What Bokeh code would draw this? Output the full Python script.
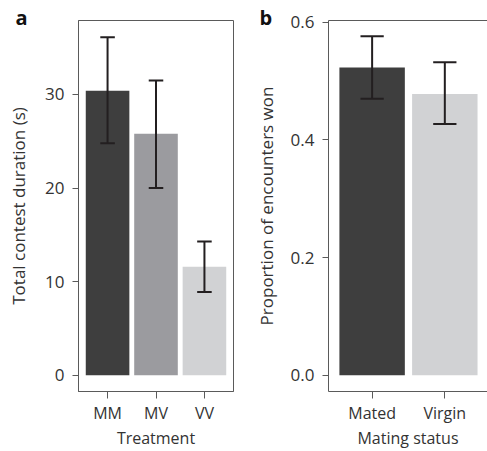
from bokeh.plotting import figure
from bokeh.layouts import row
from bokeh.models import Range1d, FixedTicker, PrintfTickFormatter, LinearAxis, Title
from bokeh.embed import file_html
from bokeh.resources import INLINE

# ---- data ----
treatments = ["MM", "MV", "VV"]
duration = [30.4, 25.8, 11.6]
duration_lo = [24.8, 20.0, 8.9]
duration_hi = [36.1, 31.5, 14.3]
treat_colors = ["#3e3e3e", "#9b9b9f", "#d1d2d4"]
duration_ticks = [0, 10, 20, 30]

status = ["Mated", "Virgin"]
won = [0.523, 0.478]
won_lo = [0.470, 0.427]
won_hi = [0.576, 0.532]
status_colors = ["#3e3e3e", "#d1d2d4"]
won_ticks = [0.0, 0.2, 0.4, 0.6]

FONT = "Open Sans"
TXT = "#333333"
AX = "#5a5a5a"
ERR = "#231f20"


def style_axes(p):
    for ax in p.xaxis:
        ax.major_label_text_font = FONT
        ax.major_label_text_font_size = "16px"
        ax.major_label_text_color = TXT
        ax.axis_label_text_font = FONT
        ax.axis_label_text_font_size = "16px"
        ax.axis_label_text_font_style = "normal"
        ax.axis_label_text_color = TXT
        ax.major_tick_out = 7
        ax.major_tick_in = 0
        ax.minor_tick_out = 0
        ax.minor_tick_in = 0
        ax.major_label_standoff = 3
        ax.axis_label_standoff = 0
        ax.axis_line_color = AX
        ax.major_tick_line_color = AX
    for ax in p.yaxis:
        ax.major_label_text_font = FONT
        ax.major_label_text_font_size = "17px"
        ax.major_label_text_color = TXT
        ax.axis_label_text_font = FONT
        ax.axis_label_text_font_size = "17px"
        ax.axis_label_text_font_style = "normal"
        ax.axis_label_text_color = TXT
        ax.major_tick_out = 6
        ax.major_tick_in = 0
        ax.minor_tick_out = 0
        ax.minor_tick_in = 0
        ax.major_label_standoff = 8
        ax.axis_line_color = AX
        ax.major_tick_line_color = AX
    p.xgrid.visible = False
    p.ygrid.visible = False


def panel_letter(p, letter, offset):
    t = Title(text=letter, align="left", offset=offset, standoff=-20,
              text_font=FONT, text_font_size="20px", text_font_style="bold",
              text_color="#111111")
    p.add_layout(t, "above")


# ---- panel a ----
xa = [i + 1 for i in range(len(treatments))]
pa = figure(width=240, height=451, output_backend="svg", toolbar_location=None,
            x_range=Range1d(0.4, 3.6), y_range=Range1d(-1.73, 37.9),
            min_border_left=78, min_border_right=7, min_border_top=19, min_border_bottom=60)
pa.vbar(x=xa, top=duration, bottom=0, width=0.9, fill_color=treat_colors, line_color=None)
pa.segment(x0=xa, x1=xa, y0=duration_lo, y1=duration_hi, line_color=ERR, line_width=2)
pa.segment(x0=[x - 0.15 for x in xa], x1=[x + 0.15 for x in xa], y0=duration_hi, y1=duration_hi,
           line_color=ERR, line_width=2)
pa.segment(x0=[x - 0.15 for x in xa], x1=[x + 0.15 for x in xa], y0=duration_lo, y1=duration_lo,
           line_color=ERR, line_width=2)
pa.xaxis.ticker = FixedTicker(ticks=xa)
pa.xaxis.major_label_overrides = {x: t for x, t in zip(xa, treatments)}
pa.yaxis.ticker = FixedTicker(ticks=duration_ticks)
pa.xaxis.axis_label = "Treatment"
pa.yaxis.axis_label = "Total contest duration (s)"
style_axes(pa)
pa.yaxis.axis_label_standoff = 12
pa.outline_line_color = AX
pa.outline_line_alpha = 1.0
panel_letter(pa, "a", -63)

# ---- panel b ----
xb = [i + 1 for i in range(len(status))]
pb = figure(width=247, height=451, output_backend="svg", toolbar_location=None,
            x_range=Range1d(0.4, 2.587), y_range=Range1d(-0.0276, 0.6029),
            min_border_left=88, min_border_right=0, min_border_top=20, min_border_bottom=59)
pb.vbar(x=xb, top=won, bottom=0, width=0.9, fill_color=status_colors, line_color=None)
pb.segment(x0=xb, x1=xb, y0=won_lo, y1=won_hi, line_color=ERR, line_width=2)
pb.segment(x0=[x - 0.16 for x in xb], x1=[x + 0.16 for x in xb], y0=won_hi, y1=won_hi,
           line_color=ERR, line_width=2)
pb.segment(x0=[x - 0.16 for x in xb], x1=[x + 0.16 for x in xb], y0=won_lo, y1=won_lo,
           line_color=ERR, line_width=2)
pb.xaxis.ticker = FixedTicker(ticks=xb)
pb.xaxis.major_label_overrides = {x: t for x, t in zip(xb, status)}
pb.yaxis.ticker = FixedTicker(ticks=won_ticks)
pb.yaxis.formatter = PrintfTickFormatter(format="%.1f")
pb.xaxis.axis_label = "Mating status"
pb.yaxis.axis_label = "Proportion of encounters won"
style_axes(pb)
pb.yaxis.axis_label_standoff = 10
pb.outline_line_color = None
top_axis = LinearAxis(ticker=FixedTicker(ticks=[]), major_tick_out=0, major_tick_in=0,
                      minor_tick_out=0, minor_tick_in=0, major_label_standoff=0,
                      axis_line_color=AX, major_label_text_font_size="0px")
pb.add_layout(top_axis, "above")
panel_letter(pb, "b", -69)

layout = row(pa, pb)
open("out.html", "w").write(file_html(layout, INLINE))
